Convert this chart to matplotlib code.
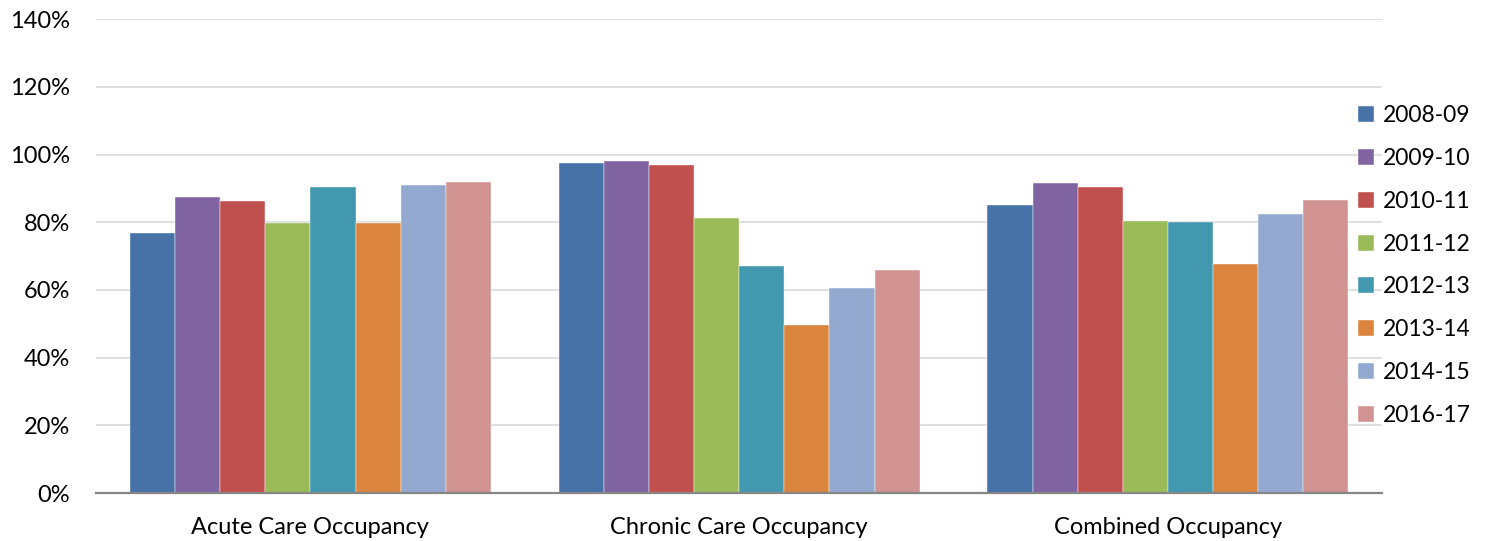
import numpy as np
import matplotlib
matplotlib.use('Agg')
import matplotlib.pyplot as plt
import matplotlib.ticker as plticker

FONT_FAMILY      = ['Lato', 'DejaVu Sans']
FONT_SIZE        = 17
LEGEND_FONT_SIZE = 16.5

categories = ['Acute Care Occupancy', 'Chronic Care Occupancy', 'Combined Occupancy']
years      = ['2008-09', '2009-10', '2010-11', '2011-12', '2012-13', '2013-14', '2014-15', '2016-17']

# occupancy rate (%) per year, ordered as categories
occupancy = {
    '2008-09': [76.8, 97.5, 85.0],
    '2009-10': [87.3, 98.2, 91.7],
    '2010-11': [86.2, 97.0, 90.5],
    '2011-12': [79.8, 81.3, 80.5],
    '2012-13': [90.5, 67.0, 80.2],
    '2013-14': [79.9, 49.6, 67.7],
    '2014-15': [91.1, 60.5, 82.4],
    '2016-17': [91.8, 66.0, 86.7],
}

colors = ['#4672a8', '#8064a2', '#c0504d', '#9bbb59',
          '#4198af', '#db843d', '#93a9cf', '#d19392']

plt.rcParams['font.family'] = FONT_FAMILY

figure = plt.figure(figsize=(14.88, 5.41), dpi=100)
ax = figure.add_axes([0.0645, 0.0887, 0.8645, 0.876])

groupWidth = 0.842
barWidth   = groupWidth / len(years)
x          = np.arange(len(categories))

for i, year in enumerate(years):
    offset = -groupWidth / 2 + barWidth * (i + 0.5)
    ax.bar(x + offset, occupancy[year], width=barWidth, color=colors[i],
           edgecolor='white', linewidth=0.3, label=year, zorder=3)

ax.set_xlim(-0.5, len(categories) - 0.5)
ax.set_ylim(0, 140)
ax.yaxis.set_major_locator(plticker.MultipleLocator(20))
ax.yaxis.set_major_formatter(plticker.FuncFormatter(lambda v, pos: '{:.0f}%'.format(v)))
ax.set_xticks(x)
ax.set_xticklabels(categories)

ax.tick_params(axis='both', length=0, labelsize=FONT_SIZE, colors='black')
ax.tick_params(axis='y', pad=18.5)
ax.tick_params(axis='x', pad=17)

ax.grid(axis='y', color='#d9d9d9', linewidth=1.2, zorder=0)
for side in ('top', 'right', 'left'):
    ax.spines[side].set_visible(False)
ax.spines['bottom'].set_color('#868686')
ax.spines['bottom'].set_linewidth(1.6)
ax.spines['bottom'].set_zorder(4)

ax.legend(loc='upper left', bbox_to_anchor=(0.981, 0.818), frameon=False,
          fontsize=LEGEND_FONT_SIZE, handlelength=0.7, handleheight=0.7,
          handletextpad=0.4, labelspacing=0.95, borderaxespad=0, borderpad=0)

figure.savefig('out.png', dpi=100)
plt.close(figure)
